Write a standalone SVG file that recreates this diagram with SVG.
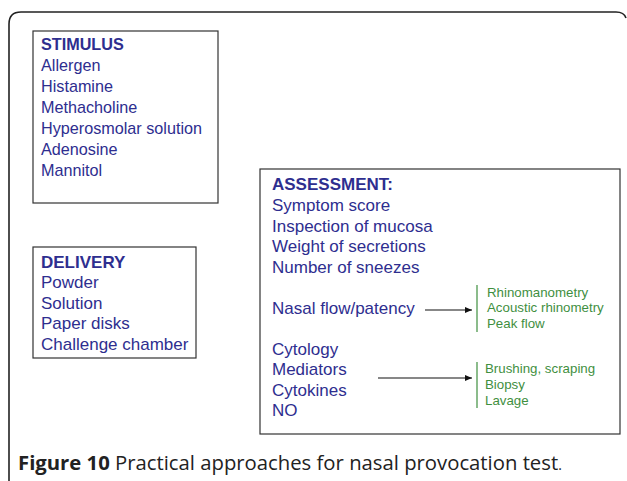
<svg xmlns="http://www.w3.org/2000/svg" width="627" height="481" viewBox="0 0 627 481">
<style>
.box{fill:#fff;stroke:#333;stroke-width:1.2}
.t{font-family:"Liberation Sans",Arial,sans-serif;fill:#2e2e8f}
.h{font-weight:bold}
.g{font-family:"Liberation Sans",Arial,sans-serif;font-size:13.3px;fill:#3f8f3f}
.gl{stroke:#3f8f3f;stroke-width:1.2}
.ar{stroke:#111;stroke-width:1.2;fill:none}
.cap{font-family:"Open Sans","Noto Sans",sans-serif;fill:#222;font-size:20.3px}
</style>
<defs>
<marker id="ah" markerWidth="8" markerHeight="8" refX="7" refY="4" orient="auto" markerUnits="userSpaceOnUse">
<path d="M0,1 L7,4 L0,7 Z" fill="#111"/>
</marker>
</defs>
<rect width="627" height="481" fill="#fff"/>
<path d="M9,481 L9,24 Q9,12 21,12 L616,12 Q624,12 626,18" fill="none" stroke="#222" stroke-width="1.6"/>
<g id="stimulus">
<rect class="box" x="33" y="31" width="185" height="172"/>
<text class="t" font-size="16.2px" x="41">
<tspan class="h" x="41" y="50">STIMULUS</tspan>
<tspan x="41" y="71">Allergen</tspan>
<tspan x="41" y="92">Histamine</tspan>
<tspan x="41" y="113">Methacholine</tspan>
<tspan x="41" y="134">Hyperosmolar solution</tspan>
<tspan x="41" y="155">Adenosine</tspan>
<tspan x="41" y="176">Mannitol</tspan>
</text>
</g>
<g id="delivery">
<rect class="box" x="33" y="247" width="163" height="111"/>
<text class="t" font-size="17px">
<tspan class="h" x="41" y="268">DELIVERY</tspan>
<tspan x="41" y="288">Powder</tspan>
<tspan x="41" y="309">Solution</tspan>
<tspan x="41" y="329">Paper disks</tspan>
<tspan x="41" y="350">Challenge chamber</tspan>
</text>
</g>
<g id="assessment">
<rect class="box" x="260" y="169" width="360" height="265"/>
<text class="t" font-size="17px">
<tspan class="h" x="272" y="190">ASSESSMENT:</tspan>
<tspan x="272" y="211">Symptom score</tspan>
<tspan x="272" y="232">Inspection of mucosa</tspan>
<tspan x="272" y="252">Weight of secretions</tspan>
<tspan x="272" y="273">Number of sneezes</tspan>
<tspan x="272" y="314">Nasal flow/patency</tspan>
<tspan x="272" y="355">Cytology</tspan>
<tspan x="272" y="375">Mediators</tspan>
<tspan x="272" y="396">Cytokines</tspan>
<tspan x="272" y="416">NO</tspan>
</text>
</g>
<g id="nasal-methods">
<line class="gl" x1="477" y1="285" x2="477" y2="332"/>
<text class="g">
<tspan x="487" y="297">Rhinomanometry</tspan>
<tspan x="487" y="312">Acoustic rhinometry</tspan>
<tspan x="487" y="328">Peak flow</tspan>
</text>
</g>
<g id="sample-methods">
<line class="gl" x1="477" y1="362" x2="477" y2="408"/>
<text class="g">
<tspan x="485" y="373">Brushing, scraping</tspan>
<tspan x="485" y="389">Biopsy</tspan>
<tspan x="485" y="405">Lavage</tspan>
</text>
</g>
<g id="connectors">
<line class="ar" x1="425" y1="310" x2="472" y2="310" marker-end="url(#ah)"/>
<line class="ar" x1="378" y1="378" x2="472" y2="378" marker-end="url(#ah)"/>
</g>
<g id="caption">
<text class="cap" x="18" y="470"><tspan font-weight="bold">Figure 10</tspan> Practical approaches for nasal provocation test<tspan font-size="14px">.</tspan></text>
</g>
</svg>
